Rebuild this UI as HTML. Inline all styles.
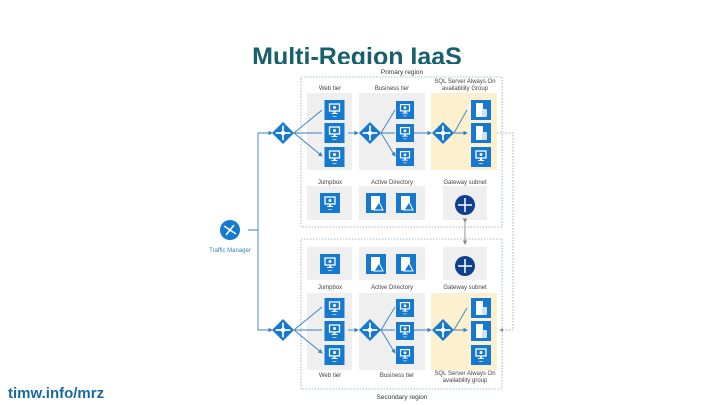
<!DOCTYPE html>
<html><head><meta charset="utf-8"><style>
html,body{margin:0;padding:0;background:#fff;}
svg{display:block;font-family:"Liberation Sans",sans-serif;}
</style></head><body>
<svg width="720" height="405" viewBox="0 0 720 405" xmlns="http://www.w3.org/2000/svg">
<defs>
<symbol id="vm" viewBox="0 0 20 20">
<rect width="20" height="20" fill="#1479cf"/>
<rect x="5" y="4" width="10" height="7" fill="none" stroke="#fff" stroke-width="1.3"/>
<circle cx="10" cy="7.5" r="1.5" fill="#fff"/>
<rect x="9" y="11" width="2" height="2" fill="#fff"/>
<rect x="7" y="13" width="6" height="1" fill="#fff"/>
<rect x="8" y="16" width="4" height="1" fill="#bcd"/>
</symbol>
<symbol id="db" viewBox="0 0 20 20">
<rect width="20" height="20" fill="#1479cf"/>
<rect x="5" y="3" width="7" height="14" fill="#fff"/>
<rect x="11" y="9" width="5" height="8" rx="1" fill="#cfe3f5"/>
</symbol>
<symbol id="ad" viewBox="0 0 20 20">
<rect width="20" height="20" fill="#1479cf"/>
<rect x="5" y="3" width="9" height="14" fill="#fff"/>
<polygon points="8,17 13,9 17,17" fill="#1479cf" stroke="#fff" stroke-width="1"/>
</symbol>
<symbol id="lb" viewBox="0 0 24 24">
<polygon points="12,0 24,12 12,24 0,12" fill="#1479cf"/>
<path d="M12 4V20M4 12H20" stroke="#fff" stroke-width="1.8"/>
<circle cx="12" cy="12" r="2.5" fill="#fff"/>
</symbol>
<marker id="ar" markerWidth="5" markerHeight="5" refX="4" refY="2.5" orient="auto"><path d="M0,0L5,2.5L0,5z" fill="#3a7fc0"/></marker>
<marker id="ag" markerWidth="5" markerHeight="5" refX="4" refY="2.5" orient="auto"><path d="M0,0L5,2.5L0,5z" fill="#888"/></marker>
</defs>
<text x="357" y="65" text-anchor="middle" font-size="25" font-weight="bold" fill="#17606e">Multi-Region IaaS</text>
<rect x="190" y="64" width="335" height="340" fill="#fff"/>
<!-- regions -->
<rect x="301" y="77" width="201" height="150" fill="none" stroke="#8ab" stroke-width="0.8" stroke-dasharray="1.5,1.5"/>
<rect x="301" y="239" width="201" height="150" fill="none" stroke="#8ab" stroke-width="0.8" stroke-dasharray="1.5,1.5"/>
<text x="402" y="74" font-size="6.5" text-anchor="middle" fill="#333">Primary region</text>
<text x="402" y="399" font-size="6.5" text-anchor="middle" fill="#333">Secondary region</text>
<g font-size="6" fill="#444" text-anchor="middle">
<text x="330" y="90">Web tier</text><text x="392" y="90">Business tier</text>
<text x="465" y="83">SQL Server Always On</text><text x="465" y="90">availability Group</text>
<text x="330" y="184">Jumpbox</text><text x="392" y="184">Active Directory</text><text x="465" y="184">Gateway subnet</text>
<text x="330" y="289">Jumpbox</text><text x="392" y="289">Active Directory</text><text x="465" y="289">Gateway subnet</text>
<text x="330" y="377">Web tier</text><text x="397" y="377">Business tier</text>
<text x="465" y="375">SQL Server Always On</text><text x="465" y="382">availability group</text>
<text x="465" y="192" font-size="5">VPN Gateway</text><text x="465" y="254" font-size="5">VPN Gateway</text>
<text x="230" y="252" fill="#3a7fc0">Traffic Manager</text>
</g>
<!-- panels primary -->
<rect x="307" y="93" width="45" height="77" fill="#efefef"/>
<rect x="359" y="93" width="66" height="77" fill="#efefef"/>
<rect x="431" y="93" width="66" height="77" fill="#fdf0cf"/>
<rect x="307" y="186" width="45" height="34" fill="#efefef"/>
<rect x="359" y="186" width="66" height="34" fill="#efefef"/>
<rect x="443" y="186" width="44" height="34" fill="#efefef"/>
<!-- panels secondary -->
<rect x="307" y="247" width="45" height="33" fill="#efefef"/>
<rect x="359" y="247" width="66" height="33" fill="#efefef"/>
<rect x="443" y="247" width="44" height="33" fill="#efefef"/>
<rect x="307" y="293" width="45" height="77" fill="#efefef"/>
<rect x="359" y="293" width="66" height="77" fill="#efefef"/>
<rect x="431" y="293" width="66" height="77" fill="#fdf0cf"/>
<!-- connectors -->
<g stroke="#3a7fc0" stroke-width="0.9" fill="none">
<path d="M248,230H258V133H272" marker-end="url(#ar)"/>
<path d="M248,230H258V330H272" marker-end="url(#ar)"/>
<path d="M294,133L322,110M294,133H322M294,133L322,156" marker-end="url(#ar)"/>
<path d="M348,133H358" marker-end="url(#ar)"/>
<path d="M381,133L395,110M381,133H395M381,133L395,156" marker-end="url(#ar)"/>
<path d="M413,133H431" marker-end="url(#ar)"/>
<path d="M454,133L467,110M454,133H467" marker-end="url(#ar)"/>
<path d="M294,330L322,307M294,330H322M294,330L322,353" marker-end="url(#ar)"/>
<path d="M348,330H358" marker-end="url(#ar)"/>
<path d="M381,330L395,307M381,330H395M381,330L395,353" marker-end="url(#ar)"/>
<path d="M413,330H431" marker-end="url(#ar)"/>
<path d="M454,330L467,308M454,330H467" marker-end="url(#ar)"/>
</g>
<path d="M465,222V244" stroke="#888" stroke-width="0.9" marker-end="url(#ag)" marker-start="url(#ag)"/>
<path d="M497,133H513V330H500" stroke="#999" stroke-width="0.8" stroke-dasharray="1.5,1.5" fill="none" marker-end="url(#ag)"/>
<!-- icons -->
<use href="#lb" x="272" y="122" width="22" height="22"/>
<use href="#lb" x="359" y="122" width="22" height="22"/>
<use href="#lb" x="432" y="122" width="22" height="22"/>
<use href="#lb" x="272" y="319" width="22" height="22"/>
<use href="#lb" x="359" y="319" width="22" height="22"/>
<use href="#lb" x="432" y="319" width="22" height="22"/>
<g>
<use href="#vm" x="323" y="100" width="23" height="20"/><use href="#vm" x="323" y="123" width="23" height="20"/><use href="#vm" x="323" y="147" width="23" height="20"/>
<use href="#vm" x="396" y="100" width="18" height="20"/><use href="#vm" x="396" y="123" width="18" height="20"/><use href="#vm" x="396" y="147" width="18" height="20"/>
<use href="#db" x="469" y="100" width="24" height="20"/><use href="#db" x="469" y="123" width="24" height="20"/><use href="#vm" x="469" y="147" width="24" height="20"/>
<use href="#vm" x="320" y="193" width="20" height="20"/>
<use href="#ad" x="366" y="193" width="20" height="20"/><use href="#ad" x="396" y="193" width="20" height="20"/>
<use href="#vm" x="320" y="254" width="20" height="20"/>
<use href="#ad" x="366" y="254" width="20" height="20"/><use href="#ad" x="396" y="254" width="20" height="20"/>
<use href="#vm" x="323" y="298" width="23" height="20"/><use href="#vm" x="323" y="321" width="23" height="20"/><use href="#vm" x="323" y="345" width="23" height="20"/>
<use href="#vm" x="396" y="298" width="18" height="20"/><use href="#vm" x="396" y="321" width="18" height="20"/><use href="#vm" x="396" y="345" width="18" height="20"/>
<use href="#db" x="469" y="298" width="24" height="20"/><use href="#db" x="469" y="321" width="24" height="20"/><use href="#vm" x="469" y="345" width="24" height="20"/>
</g>
<circle cx="465" cy="205" r="10" fill="#0f3f8f"/><path d="M458,205H472M465,198V212" stroke="#fff" stroke-width="1.5"/>
<circle cx="465" cy="266" r="10" fill="#0f3f8f"/><path d="M458,266H472M465,259V273" stroke="#fff" stroke-width="1.5"/>
<!-- traffic manager -->
<circle cx="230" cy="230" r="10" fill="#1479cf"/><path d="M224,226L236,234M226,235L234,225" stroke="#fff" stroke-width="1.5"/>
<text x="8" y="398" font-size="15" font-weight="bold" fill="#1a6aa0">timw.info/mrz</text>
</svg>
</body></html>
